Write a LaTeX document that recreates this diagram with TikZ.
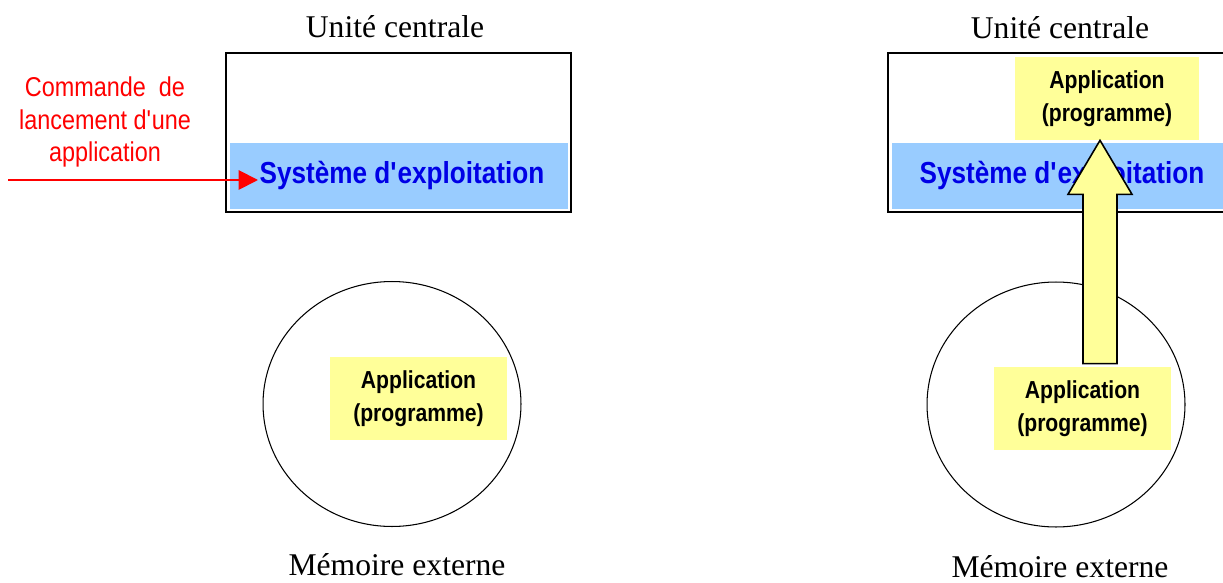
\documentclass[tikz,border=0pt]{standalone}
\usepackage{fontspec}
\setmainfont{Liberation Serif}
\setsansfont{Liberation Sans}
\newfontfamily\condsans{Liberation Sans}[FakeStretch=0.86]
\usepackage{tikz}
\usetikzlibrary{arrows.meta,positioning,calc,shapes.geometric}

\definecolor{osblue}{HTML}{99CCFF}
\definecolor{ostext}{HTML}{0000E6}
\definecolor{appyellow}{HTML}{FFFF99}
\definecolor{cmdred}{HTML}{FF0000}

\begin{document}
\begin{tikzpicture}[
  x=0.02cm, y=0.02cm,
  cpu/.style={draw, line width=0.8pt, fill=white, minimum width=6.9cm, minimum height=3.18cm},
  osband/.style={fill=osblue, minimum height=1.32cm, text=ostext, font=\condsans\bfseries\fontsize{17.3}{20}\selectfont},
  appbox/.style={fill=appyellow, minimum height=1.66cm, align=center, font=\condsans\bfseries\fontsize{14}{19}\selectfont},
  memory/.style={draw, ellipse, line width=0.6pt, minimum width=5.16cm, minimum height=4.9cm},
  title/.style={font=\fontsize{18}{20}\selectfont},
  cmdline/.style={-{Triangle[length=11pt,width=11pt]}, line width=1.1pt, color=cmdred},
  bigarrow/.style={draw, line width=0.9pt, fill=appyellow, line join=miter}
]
\useasboundingbox (0,0) rectangle (1223,582);

% left: launch command
\node[cpu] (cpuL) at (398.5,449.5) {};
\node[osband, minimum width=6.76cm] (osL) at (399,406) {\hspace*{0.12cm}Système d\textquotesingle exploitation};
\node[title] (titleL) at (395,555) {Unité centrale};
\node[align=center, text=cmdred, font=\condsans\fontsize{15.5}{18.7}\selectfont] (cmd) at (105,460) {Commande~~de\\lancement d\textquotesingle une\\application};
\coordinate (cmdstart) at (8,402);
\coordinate (cmdend) at (258,402);
\draw[cmdline] (cmdstart) -- (cmdend);

\node[memory] (memL) at (392,178) {};
\node[appbox, minimum width=3.54cm] (appL) at (418.5,183.5) {Application\\(programme)};
\node[title] (extL) at (397,17) {Mémoire externe};

% right: program loaded
\node[cpu, minimum width=7.04cm] (cpuR) at (1064,449.5) {};
\node[osband, minimum width=6.8cm] (osR) at (1062,406) {Système d\textquotesingle exploitation};
\node[title] (titleR) at (1060,554) {Unité centrale};
\node[appbox, minimum width=3.68cm] (appcpu) at (1107,483.5) {Application\\(programme)};

\node[memory] (memR) at (1056,177.5) {};
\node[appbox, minimum width=3.54cm] (appmem) at (1082.5,173.5) {Application\\(programme)};
\node[title] (extR) at (1060,15) {Mémoire externe};

\coordinate (upbase) at ($(appmem.north)+(17.5,3)$);
\coordinate (uptip) at ($(appcpu.south)+(-7,0)$);
\draw[bigarrow] ($(upbase)+(-17,0)$) -- ($(uptip)+(-17,-54)$) -- ($(uptip)+(-32,-54)$)
  -- (uptip) -- ($(uptip)+(32,-54)$) -- ($(uptip)+(17,-54)$) -- ($(upbase)+(17,0)$) -- cycle;
\end{tikzpicture}
\end{document}
